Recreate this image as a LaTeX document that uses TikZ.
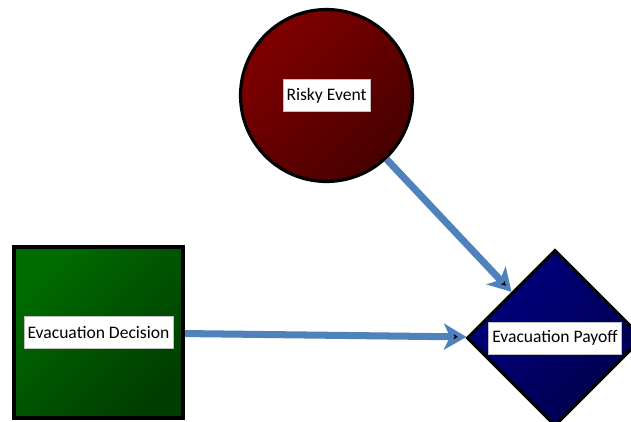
\documentclass[tikz,border=0pt]{standalone}
\usepackage{fontspec}
\newfontfamily\calfont{Carlito}
\usetikzlibrary{shapes.geometric,arrows.meta}
\definecolor{linkblue}{HTML}{4F81BD}

\begin{document}
\begin{tikzpicture}[
  lbl/.style={rectangle,draw=gray!50,fill=white,font=\calfont\fontsize{10}{12}\selectfont,inner xsep=2pt,minimum height=0.64cm},
  link/.style={draw=linkblue,line width=4pt,-{Stealth[length=0.45cm,width=0.52cm,inset=0.12cm]}}]
\useasboundingbox (0,0) rectangle (12.62,8.42);
\node[circle,draw,line width=1.8pt,minimum size=3.44cm,inner sep=0pt,
  top color=red!50!black,bottom color=red!28!black,shading angle=45] (v1) at (6.53,6.51) {};
\node[rectangle,draw,line width=2.3pt,minimum width=3.38cm,minimum height=3.42cm,inner sep=0pt,
  top color=green!42!black,bottom color=green!24!black,shading angle=45] (v2) at (1.97,1.77) {};
\node[diamond,draw,line width=1.8pt,minimum width=3.52cm,minimum height=3.52cm,inner sep=0pt,
  top color=blue!50!black,bottom color=blue!30!black,shading angle=45] (v3) at (11.1,1.66) {};
\node[lbl] (t1) at (v1) {Risky Event};
\node[lbl] (t2) at (v2) {Evacuation Decision};
\node[lbl] (t3) at (v3) {Evacuation Payoff};
\draw[link] (v1) edge (v3);
\draw[link] (v2) edge (v3);
\end{tikzpicture}
\end{document}
